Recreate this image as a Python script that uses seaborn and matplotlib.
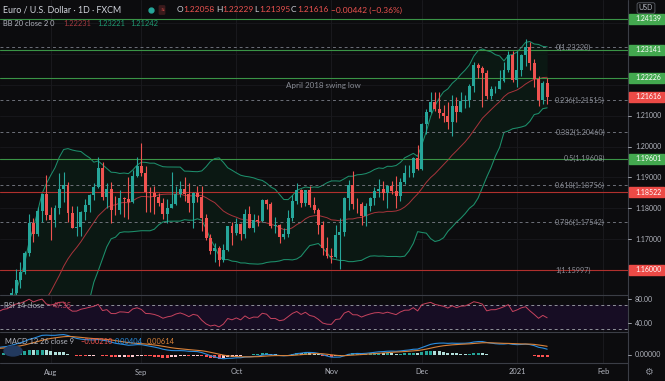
import matplotlib
matplotlib.use("Agg")
import matplotlib.pyplot as plt
from matplotlib.patches import Rectangle, Ellipse
import seaborn as sns
import pandas as pd
import numpy as np

sns.set_theme(style="dark")
plt.rcParams["font.family"] = ["Lato", "DejaVu Sans"]

W, H = 665, 381
BG = "#0c0c0e"
GRID = "#19191d"
SEP = "#3b3e46"
TXT = "#b2b5be"
UP = "#26a69a"
DOWN = "#ef5350"

# EUR/USD closes before the visible window (May 1 - Jul 15 2020), only used to warm up indicators
warmup_close = [
    1.0982, 1.0905, 1.0840, 1.0794, 1.0835, 1.0841,
    1.0808, 1.0852, 1.0816, 1.0806, 1.0820,
    1.0918, 1.0924, 1.0979, 1.0944, 1.0901,
    1.0899, 1.0978, 1.1005, 1.1078, 1.1100,
    1.1133, 1.1171, 1.1236, 1.1336, 1.1292,
    1.1295, 1.1343, 1.1376, 1.1298, 1.1255,
    1.1330, 1.1263, 1.1245, 1.1204, 1.1177,
    1.1259, 1.1307, 1.1250, 1.1219, 1.1220,
    1.1245, 1.1233,
    1.1250, 1.1239, 1.1246,
    1.1309, 1.1275, 1.1330, 1.1288, 1.1300,
    1.1342, 1.1399, 1.1412,
]

# daily candles Jul 16 2020 - Jan 13 2021, one row per week
opens = [
    1.1411, 1.1383,
    1.1428, 1.1443, 1.1525, 1.1569, 1.1595,
    1.1656, 1.1751, 1.1717, 1.1791, 1.1846,
    1.1778, 1.1763, 1.1800, 1.1863, 1.1876,
    1.1786, 1.1737, 1.1739, 1.1787, 1.1812,
    1.1842, 1.1869, 1.1930, 1.1837, 1.1862,
    1.1796, 1.1794, 1.1834, 1.1831, 1.1822,
    1.1905, 1.1936, 1.1913, 1.1853, 1.1850,
    1.1838, 1.1816, 1.1780, 1.1801, 1.1814,
    1.1846, 1.1864, 1.1845, 1.1817, 1.1850,
    1.1838, 1.1769, 1.1703, 1.1660, 1.1671,
    1.1631, 1.1665, 1.1744, 1.1721, 1.1750,
    1.1717, 1.1781, 1.1736, 1.1761, 1.1758,
    1.1827, 1.1814, 1.1744, 1.1746, 1.1706,
    1.1718, 1.1767, 1.1824, 1.1861, 1.1818,
    1.1860, 1.1811, 1.1795, 1.1746, 1.1672,
    1.1646, 1.1641, 1.1714, 1.1722, 1.1832,
    1.1874, 1.1815, 1.1814, 1.1775, 1.1808,
    1.1834, 1.1856, 1.1862, 1.1851, 1.1872,
    1.1857, 1.1841, 1.1884, 1.1915, 1.1916,
    1.1962, 1.1927, 1.2073, 1.2112, 1.2145,
    1.2121, 1.2110, 1.2100, 1.2080, 1.2133,
    1.2112, 1.2147, 1.2151, 1.2196, 1.2264,
    1.2255, 1.2240, 1.2164, 1.2187,
    1.2188, 1.2214, 1.2249, 1.2297,
    1.2215, 1.2248, 1.2296, 1.2324, 1.2271,
    1.2218, 1.2151, 1.22058,
]
highs = [
    1.1452, 1.1445,
    1.1469, 1.1540, 1.1602, 1.1626, 1.1660,
    1.1781, 1.1770, 1.1805, 1.1848, 1.1908,
    1.1805, 1.1810, 1.1916, 1.1917, 1.1884,
    1.1806, 1.1806, 1.1790, 1.1829, 1.1848,
    1.1883, 1.1966, 1.1951, 1.1883, 1.1884,
    1.1841, 1.1860, 1.1838, 1.1901, 1.1925,
    1.1966, 1.2011, 1.1937, 1.1869, 1.1873,
    1.1851, 1.1834, 1.1830, 1.1917, 1.1873,
    1.1888, 1.1900, 1.1882, 1.1852, 1.1872,
    1.1871, 1.1780, 1.1718, 1.1687, 1.1677,
    1.1683, 1.1744, 1.1755, 1.1770, 1.1753,
    1.1799, 1.1807, 1.1782, 1.1778, 1.1831,
    1.1830, 1.1822, 1.1771, 1.1750, 1.1737,
    1.1796, 1.1842, 1.1881, 1.1864, 1.1860,
    1.1871, 1.1837, 1.1800, 1.1760, 1.1708,
    1.1670, 1.1745, 1.1770, 1.1837, 1.1891,
    1.1920, 1.1835, 1.1821, 1.1816, 1.1838,
    1.1868, 1.1894, 1.1890, 1.1876, 1.1889,
    1.1905, 1.1898, 1.1941, 1.1940, 1.1965,
    1.2004, 1.2077, 1.2123, 1.2176, 1.2178,
    1.2177, 1.2134, 1.2146, 1.2167, 1.2162,
    1.2177, 1.2169, 1.2203, 1.2273, 1.2272,
    1.2260, 1.2250, 1.2198, 1.2196,
    1.2250, 1.2276, 1.2310, 1.2310,
    1.2310, 1.2301, 1.2349, 1.2339, 1.2285,
    1.2228, 1.2212, 1.22229,
]
lows = [
    1.1371, 1.1376,
    1.1403, 1.1421, 1.1509, 1.1540, 1.1588,
    1.1646, 1.1690, 1.1711, 1.1754, 1.1761,
    1.1696, 1.1741, 1.1782, 1.1822, 1.1755,
    1.1735, 1.1711, 1.1710, 1.1762, 1.1788,
    1.1827, 1.1865, 1.1827, 1.1802, 1.1753,
    1.1779, 1.1780, 1.1771, 1.1764, 1.1817,
    1.1903, 1.1904, 1.1789, 1.1789, 1.1781,
    1.1809, 1.1765, 1.1753, 1.1801, 1.1810,
    1.1837, 1.1823, 1.1787, 1.1737, 1.1822,
    1.1727, 1.1697, 1.1651, 1.1626, 1.1612,
    1.1625, 1.1663, 1.1681, 1.1715, 1.1696,
    1.1705, 1.1736, 1.1722, 1.1742, 1.1755,
    1.1797, 1.1737, 1.1721, 1.1689, 1.1702,
    1.1706, 1.1760, 1.1814, 1.1803, 1.1808,
    1.1803, 1.1784, 1.1718, 1.1650, 1.1640,
    1.1622, 1.1639, 1.1603, 1.1711, 1.1793,
    1.1799, 1.1784, 1.1746, 1.1744, 1.1792,
    1.1811, 1.1838, 1.1827, 1.1800, 1.1845,
    1.1802, 1.1825, 1.1880, 1.1900, 1.1903,
    1.1924, 1.1924, 1.2040, 1.2108, 1.2114,
    1.2092, 1.2081, 1.2058, 1.2036, 1.2080,
    1.2113, 1.2126, 1.2130, 1.2176, 1.2223,
    1.2130, 1.2153, 1.2156, 1.2173,
    1.2188, 1.2211, 1.2243, 1.2209,
    1.2193, 1.2228, 1.2262, 1.2250, 1.2192,
    1.2132, 1.2139, 1.21395,
]
closes = [
    1.1383, 1.1428,
    1.1443, 1.1525, 1.1569, 1.1595, 1.1656,
    1.1751, 1.1717, 1.1791, 1.1846, 1.1778,
    1.1763, 1.1800, 1.1863, 1.1876, 1.1786,
    1.1737, 1.1739, 1.1787, 1.1812, 1.1842,
    1.1869, 1.1930, 1.1837, 1.1862, 1.1796,
    1.1794, 1.1834, 1.1831, 1.1822, 1.1905,
    1.1936, 1.1913, 1.1853, 1.1850, 1.1838,
    1.1816, 1.1780, 1.1801, 1.1814, 1.1846,
    1.1864, 1.1845, 1.1817, 1.1850, 1.1838,
    1.1769, 1.1703, 1.1660, 1.1671, 1.1631,
    1.1665, 1.1744, 1.1721, 1.1750, 1.1717,
    1.1781, 1.1736, 1.1761, 1.1758, 1.1827,
    1.1814, 1.1744, 1.1746, 1.1706, 1.1718,
    1.1767, 1.1824, 1.1861, 1.1818, 1.1860,
    1.1811, 1.1795, 1.1746, 1.1672, 1.1646,
    1.1641, 1.1714, 1.1722, 1.1832, 1.1874,
    1.1815, 1.1814, 1.1775, 1.1808, 1.1834,
    1.1856, 1.1862, 1.1851, 1.1872, 1.1857,
    1.1841, 1.1884, 1.1915, 1.1916, 1.1962,
    1.1927, 1.2073, 1.2112, 1.2145, 1.2121,
    1.2110, 1.2100, 1.2080, 1.2133, 1.2112,
    1.2147, 1.2151, 1.2196, 1.2264, 1.2255,
    1.2240, 1.2164, 1.2187, 1.2188,
    1.2214, 1.2249, 1.2297, 1.2215,
    1.2248, 1.2296, 1.2324, 1.2271, 1.2218,
    1.2151, 1.22058, 1.21616,
]

holidays = ["2020-12-25", "2021-01-01"]
month_names = {8: "Aug", 9: "Sep", 10: "Oct", 11: "Nov", 12: "Dec", 1: "2021", 2: "Feb"}

fib_levels = ["0", "0.236", "0.382", "0.5", "0.618", "0.786", "1"]
fib_prices = [1.23220, 1.21515, 1.20460, 1.19608, 1.18756, 1.17542, 1.15997]

green_lines = [1.24139, 1.23141, 1.22226, 1.19601]
red_lines = [1.18522, 1.16000]
last_price = 1.21616
price_ticks = [1.17, 1.18, 1.19, 1.20, 1.21, 1.22, 1.23, 1.24]

# ---- indicators -------------------------------------------------------------
all_close = pd.Series(warmup_close + closes)
basis = all_close.rolling(20).mean()
dev = all_close.rolling(20).std(ddof=0)
upper = basis + 2 * dev
lower = basis - 2 * dev

delta = all_close.diff()
gain = delta.clip(lower=0).ewm(alpha=1 / 14, adjust=False).mean()
loss = (-delta.clip(upper=0)).ewm(alpha=1 / 14, adjust=False).mean()
rsi = 100 - 100 / (1 + gain / loss)

macd = all_close.ewm(span=12, adjust=False).mean() - all_close.ewm(span=26, adjust=False).mean()
signal = macd.ewm(span=9, adjust=False).mean()
hist = macd - signal

k = len(warmup_close)
n = len(closes)
x = np.arange(n)
df = pd.DataFrame({
    "x": x, "open": opens, "high": highs, "low": lows, "close": closes,
    "basis": basis.values[k:], "upper": upper.values[k:], "lower": lower.values[k:],
    "rsi": rsi.values[k:], "macd": macd.values[k:], "signal": signal.values[k:],
    "hist": hist.values[k:], "hist_prev": hist.values[k - 1:-1],
})

dates = pd.bdate_range("2020-07-16", "2021-02-10")
dates = dates[~dates.isin(pd.to_datetime(holidays))]
month_start = [(i, month_names[d.month]) for i, d in enumerate(dates)
               if i > 0 and d.month != dates[i - 1].month]

# ---- layout (pixel based) ----------------------------------------------------
fig = plt.figure(figsize=(W / 100, H / 100), dpi=100, facecolor=BG)


def px_axes(x0, y0, w, h):
    a = fig.add_axes([x0 / W, 1 - (y0 + h) / H, w / W, h / H])
    a.set_facecolor(BG)
    a.set_xticks([])
    a.set_yticks([])
    for s in a.spines.values():
        s.set_visible(False)
    return a


PLOT_W = 628
ax = px_axes(0, 0, PLOT_W, 295)
ax_rsi = px_axes(0, 295, PLOT_W, 37)
ax_macd = px_axes(0, 332, PLOT_W, 31)

bar_px = 4.317
x0_bar = 12 - 50.7 / bar_px
xlim = (x0_bar, x0_bar + PLOT_W / bar_px)


def bx(p):
    # pixel column -> bar position
    return x0_bar + p / bar_px


for a in (ax, ax_rsi, ax_macd):
    a.set_xlim(*xlim)
    for i, _ in month_start:
        a.axvline(i, color=GRID, lw=0.8, zorder=0)

ax.set_ylim(1.15189, 1.24755)
for p in price_ticks:
    ax.axhline(p, color=GRID, lw=0.6, zorder=0)

# Bollinger band
ax.fill_between(df["x"], df["lower"], df["upper"], color="#0b1813", zorder=1, lw=0)
sns.lineplot(data=df, x="x", y="upper", ax=ax, color="#1d8f6c", lw=0.75, zorder=2)
sns.lineplot(data=df, x="x", y="lower", ax=ax, color="#1d8f6c", lw=0.75, zorder=2)
sns.lineplot(data=df, x="x", y="basis", ax=ax, color="#a8343b", lw=0.7, zorder=2)

# fib + drawn levels
for p in fib_prices:
    ax.axhline(p, color="#6e717a", lw=0.7, ls=(0, (3, 3)), zorder=2)
for p in green_lines:
    ax.axhline(p, color="#3a9446", lw=0.8, zorder=2)
for p in red_lines:
    ax.axhline(p, color="#b0302d", lw=0.8, zorder=2)

# candles
colors = np.where(df["close"] >= df["open"], UP, DOWN)
ax.vlines(df["x"], df["low"], df["high"], colors=colors, lw=0.8, zorder=3)
body = np.maximum(np.abs(df["close"] - df["open"]), 0.00005)
ax.bar(df["x"], body, bottom=np.minimum(df["open"], df["close"]), width=0.68,
       color=colors, zorder=4, linewidth=0)

ax.text(bx(323), 1.2198, "April 2018 swing low", color="#8a8d96", fontsize=5.8,
        ha="center", va="center")
fib_end = {"0": 591, "1": 591}
for lvl, p in zip(fib_levels, fib_prices):
    ax.text(bx(fib_end.get(lvl, 605)), p, f"{lvl}({p:.5f})", color="#8a8d96",
            fontsize=5.2, ha="right", va="center", zorder=5)

# RSI
ax_rsi.set_ylim(25.5, 87.2)
ax_rsi.axhspan(30, 70, color="#170d24", zorder=0)
for lv in (70, 30):
    ax_rsi.axhline(lv, color="#8f9299", lw=0.7, ls=(0, (3, 3)), zorder=1)
sns.lineplot(data=df, x="x", y="rsi", ax=ax_rsi, color="#c7435e", lw=0.7, zorder=2)

# MACD
ax_macd.set_ylim(-0.0062, 0.0167)
hcol = np.where(df["hist"] >= 0,
                np.where(df["hist"] > df["hist_prev"], "#26a69a", "#b2dfdb"),
                np.where(df["hist"] > df["hist_prev"], "#ffcdd2", "#ff5252"))
ax_macd.bar(df["x"], df["hist"], width=0.7, color=hcol, zorder=1, linewidth=0)
sns.lineplot(data=df, x="x", y="macd", ax=ax_macd, color="#2a8de0", lw=0.8, zorder=2)
sns.lineplot(data=df, x="x", y="signal", ax=ax_macd, color="#d9823a", lw=0.8, zorder=2)

for a in (ax, ax_rsi, ax_macd):
    a.set_xlabel("")
    a.set_ylabel("")
    a.set_xlim(*xlim)

# ---- frame lines ------------------------------------------------------------
for yy in (295, 332, 363):
    fig.add_artist(plt.Line2D([0, PLOT_W / W], [1 - yy / H] * 2, color=SEP, lw=0.8,
                              transform=fig.transFigure))
fig.add_artist(plt.Line2D([PLOT_W / W] * 2, [0, 1], color=SEP, lw=0.8,
                          transform=fig.transFigure))


def ypx(a, v):
    return a.transData.transform((0, v))[1]


def axis_label(a, v, s):
    y = ypx(a, v)
    fig.add_artist(plt.Line2D([PLOT_W / W, (PLOT_W + 3) / W], [y / H] * 2, color=TXT, lw=0.6,
                              transform=fig.transFigure))
    fig.text(635 / W, y / H, s, color=TXT, fontsize=5.0, ha="left", va="center")


def price_tag(v, color):
    y = ypx(ax, v)
    fig.add_artist(Rectangle((629 / W, (y - 5) / H), 35 / W, 10 / H, color=color,
                             transform=fig.transFigure, zorder=5))
    fig.text(635 / W, y / H, f"{v:.5f}", color="white", fontsize=5.0, ha="left",
             va="center", zorder=6)


# tick labels that would sit fully under a coloured tag are left out
tag_px = [ypx(ax, p) for p in green_lines + red_lines + [last_price]]
for p in price_ticks:
    if min(abs(ypx(ax, p) - t) for t in tag_px) > 7:
        axis_label(ax, p, f"{p:.5f}")
for p in green_lines:
    price_tag(p, "#43a84f")
for p in red_lines:
    price_tag(p, "#ec4a46")
price_tag(last_price, "#ec4a46")

axis_label(ax_rsi, 80, "80.00")
axis_label(ax_rsi, 40, "40.00")
axis_label(ax_macd, 0, "0.00000")

# x labels
for i, name in month_start:
    xp = ax.transData.transform((i, 0))[0]
    fig.text(xp / W, 1 - 372 / H, name, color=TXT, fontsize=5.4, ha="center", va="center")
fig.text(648 / W, 1 - 372 / H, "\u2699", color="#8a8d96", fontsize=7, ha="center",
         va="center", family="DejaVu Sans")

# USD box
fig.text(646 / W, 1 - 8 / H, "USD", color=TXT, fontsize=5.0, ha="center", va="center",
         bbox=dict(boxstyle="round,pad=0.25", fc=BG, ec="#5d6068", lw=0.6))

# small logo blob in the MACD pane
fig.add_artist(Ellipse((13 / W, 1 - 351 / H), 18 / W, 10 / H, color="#22395e",
                       transform=fig.transFigure, zorder=3))


# ---- legends ------------------------------------------------------------------
def label(xp, yp, s, color, size=6.0):
    fig.text(xp / W, 1 - yp / H, s, color=color, fontsize=size, ha="left", va="center",
             zorder=7)


label(3, 10, "Euro / U.S. Dollar \u00b7 1D \u00b7 FXCM", "#d1d4dc", 6.4)
fig.add_artist(plt.Line2D([151 / W], [1 - 10 / H], marker="o", ms=3.5, color=UP,
                          transform=fig.transFigure))
fig.text(162 / W, 1 - 10 / H, "\u2248", color=DOWN, fontsize=5, ha="center", va="center",
         bbox=dict(boxstyle="round,pad=0.2", fc="#3a1a1c", ec="none"))
RED = "#ef5350"
for xp, s, c in [(177, "O", "#d1d4dc"), (183, "1.22058", RED), (216, "H", "#d1d4dc"),
                 (222, "1.22229", RED), (254, "L", "#d1d4dc"), (259, "1.21395", RED),
                 (291, "C", "#d1d4dc"), (297, "1.21616", RED),
                 (331, "\u22120.00442 (\u22120.36%)", RED)]:
    label(xp, 10, s, c, 6.0)

label(3, 24, "BB 20 close 2 0", TXT, 5.4)
label(63, 24, "1.22231", "#a33a40", 5.4)
label(97, 24, "1.23221", "#1f9a72", 5.4)
label(130, 24, "1.21242", "#1f9a72", 5.4)

label(4, 305, "RSI 14 close", TXT, 5.4)
label(53, 305, "49.35", "#c7435e", 5.4)

label(5, 342, "MACD 12 26 close 9", TXT, 5.4)
label(80, 342, "\u22120.00210", "#ef5350", 5.4)
label(115, 342, "0.00404", "#2a8de0", 5.4)
label(147, 342, "0.00614", "#d9823a", 5.4)

fig.savefig("out.png", dpi=100, facecolor=BG)
